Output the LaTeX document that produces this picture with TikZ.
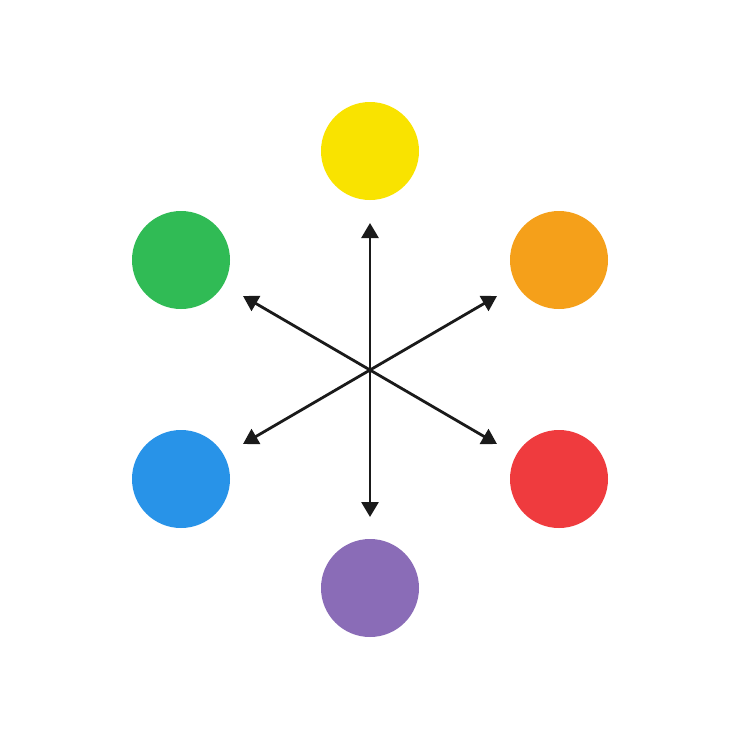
\documentclass[tikz,border=0pt]{standalone}
\usetikzlibrary{arrows.meta}
\definecolor{cyellow}{HTML}{F9E300}
\definecolor{corange}{HTML}{F5A01A}
\definecolor{cred}{HTML}{EF3B3E}
\definecolor{cpurple}{HTML}{8A6CB7}
\definecolor{cblue}{HTML}{2893E8}
\definecolor{cgreen}{HTML}{30BB55}
\definecolor{cline}{HTML}{1A1A1A}
\tikzset{
  dot/.style={circle, minimum size=98pt, inner sep=0pt, draw=none},
  ray/.style={cline, line width=2.8pt, {Triangle[length=15pt,width=17pt]}-{Triangle[length=15pt,width=17pt]}}
}
\begin{document}
\begin{tikzpicture}[x=1pt,y=-1pt]
\useasboundingbox (0,0) rectangle (740,740);
\fill[white] (0,0) rectangle (740,740);
\node[dot, fill=cyellow] (yellow) at (370,151) {};
\node[dot, fill=corange] (orange) at (559,260) {};
\node[dot, fill=cred] (red) at (559,479) {};
\node[dot, fill=cpurple] (purple) at (370,588) {};
\node[dot, fill=cblue] (blue) at (181,479) {};
\node[dot, fill=cgreen] (green) at (181,260) {};
\coordinate (t) at (370,223);
\coordinate (tr) at (497,296);
\coordinate (br) at (497,444);
\coordinate (b) at (370,517);
\coordinate (bl) at (243,444);
\coordinate (tl) at (243,296);
\draw[ray] (t) -- (b);
\draw[ray] (tr) -- (bl);
\draw[ray] (tl) -- (br);
\end{tikzpicture}
\end{document}
